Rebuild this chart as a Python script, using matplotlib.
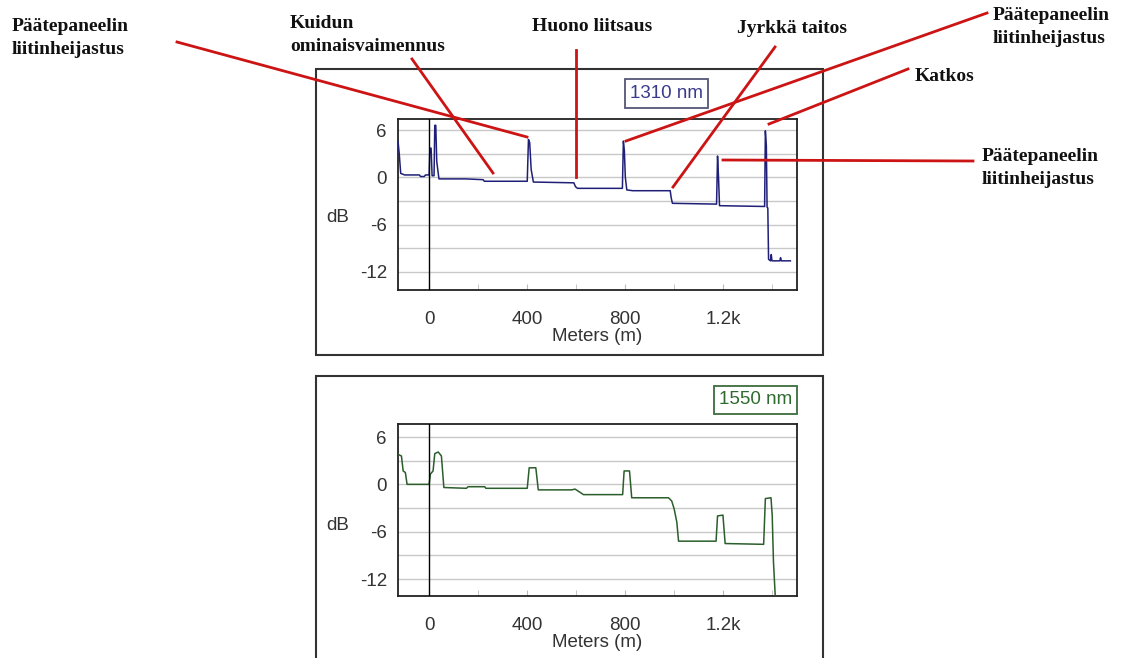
import matplotlib
matplotlib.use("Agg")
import matplotlib.pyplot as plt
from matplotlib.patches import Rectangle
from matplotlib.lines import Line2D

# ---------------- data ----------------
dist_1310 = [-127, -122, -116, -100, -40, -35, -20, -15, 0, 3, 8, 12, 20, 23, 27, 31, 40,
             150, 220, 225, 400, 405, 410, 416, 425, 590, 597, 605, 788, 792, 796, 800,
             806, 830, 983, 987, 992, 1172, 1176, 1180, 1184, 1368, 1371, 1375, 1378,
             1381, 1384, 1392, 1395, 1398, 1430, 1433, 1436, 1473]
db_1310 = [4.6, 3.0, 0.5, 0.3, 0.3, 0.1, 0.1, 0.3, 0.3, 3.7, 3.7, 0.2, 0.2, 6.6, 6.6, 2.0, -0.2,
           -0.2, -0.3, -0.5, -0.5, 4.8, 4.4, 1.0, -0.6, -0.7, -1.2, -1.4, -1.4, 4.6, 3.4, 0.0,
           -1.6, -1.7, -1.7, -2.6, -3.3, -3.4, 2.7, 0.0, -3.6, -3.7, 5.9, 4.0, -3.8,
           -3.9, -10.4, -10.6, -9.8, -10.6, -10.6, -10.2, -10.6, -10.6]

dist_1550 = [-127, -113, -106, -97, -90, 0, 5, 16, 23, 37, 50, 60, 152, 159, 227, 231, 400,
             408, 435, 445, 581, 595, 615, 629, 789, 795, 817, 826, 976, 989, 999, 1010,
             1017, 1170, 1176, 1198, 1207, 1364, 1371, 1394, 1399, 1404, 1411]
db_1550 = [3.8, 3.6, 1.7, 1.5, 0.0, 0.0, 1.3, 1.7, 3.9, 4.1, 3.6, -0.4, -0.5, -0.3, -0.3, -0.5, -0.5,
           2.1, 2.1, -0.7, -0.7, -0.6, -1.0, -1.3, -1.3, 1.7, 1.7, -1.7, -1.7, -2.1, -3.1, -4.8,
           -7.2, -7.2, -4.0, -3.9, -7.5, -7.6, -1.8, -1.7, -4.0, -9.8, -14.0]

x_ticks = [0, 400, 800, 1200]
x_tick_labels = ["0", "400", "800", "1.2k"]
y_ticks = [6, 0, -6, -12]
y_tick_labels = ["6", "0", "-6", "-12"]

W, H = 1124, 658


def fx(x):
    return x / W


def fy(y):
    return 1 - y / H


fig = plt.figure(figsize=(W / 100, H / 100), dpi=100)
fig.patch.set_facecolor("white")

sans = "Liberation Sans"
serif = "Liberation Serif"
tick_col = "#333333"
fs = 13.5

# outer frames
for (x0, y0, x1, y1) in [(316, 69, 823, 355), (316, 376, 823, 700)]:
    fig.patches.append(Rectangle((fx(x0), fy(y1)), fx(x1) - fx(x0), fy(y0) - fy(y1),
                                 transform=fig.transFigure, fill=False,
                                 edgecolor="#333333", linewidth=1.5, zorder=0))


def make_axes(rect_px, ylim, dist, db, color):
    x0, y0, x1, y1 = rect_px
    ax = fig.add_axes([fx(x0), fy(y1), fx(x1) - fx(x0), fy(y0) - fy(y1)])
    ax.plot(dist, db, color=color, lw=1.1, zorder=3)
    ax.axvline(0, color="black", lw=1.0, zorder=4)
    ax.set_xlim(-127, 1500)
    ax.set_ylim(*ylim)
    ax.set_xticks(x_ticks)
    ax.set_xticklabels(x_tick_labels, fontfamily=sans, fontsize=fs, color=tick_col)
    ax.set_xticks([200, 600, 1000, 1400], minor=True)
    ax.tick_params(axis="x", which="both", direction="in", length=4, color="#bbbbbb", pad=15)
    ax.set_yticks(y_ticks)
    ax.set_yticklabels(y_tick_labels, fontfamily=sans, fontsize=fs, color=tick_col)
    ax.set_yticks([3, -3, -9], minor=True)
    ax.tick_params(axis="y", which="both", length=0, pad=8)
    ax.grid(axis="y", which="both", color="#c8c8c8", lw=1.0, zorder=1)
    ax.set_axisbelow(True)
    for s in ax.spines.values():
        s.set_color("#222222")
        s.set_linewidth(1.3)
    ax.set_xlabel("Meters (m)", fontfamily=sans, fontsize=fs, color=tick_col, labelpad=0)
    return ax


ax1 = make_axes((398, 119, 797, 290), (-14.3, 7.4), dist_1310, db_1310, "#1f1f78")
ax2 = make_axes((398, 424, 797, 596), (-14.15, 7.65), dist_1550, db_1550, "#2b5e2b")

fig.text(fx(338), fy(218), "dB", fontfamily=sans, fontsize=fs, color=tick_col, ha="center", va="center")
fig.text(fx(338), fy(525), "dB", fontfamily=sans, fontsize=fs, color=tick_col, ha="center", va="center")

# wavelength boxes
for (x0, y0, x1, y1, txt, ec, tc) in [(625, 79, 708, 108, "1310 nm", "#555577", "#3a3a8c"),
                                      (714, 386, 797, 414, "1550 nm", "#3d6b3d", "#2e6b2e")]:
    fig.patches.append(Rectangle((fx(x0), fy(y1)), fx(x1) - fx(x0), fy(y0) - fy(y1),
                                 transform=fig.transFigure, facecolor="white",
                                 edgecolor=ec, linewidth=1.3, zorder=5))
    fig.text(fx((x0 + x1) / 2), fy((y0 + y1) / 2), txt, fontfamily=sans, fontsize=fs,
             color=tc, ha="center", va="center", zorder=6)

# annotation lines
red = "#cc1414"
for (xa, ya, xb, yb) in [(177, 42, 527, 137), (412, 59, 493, 173), (576, 50, 576, 177),
                         (775, 47, 673, 187), (987, 13, 626, 141), (908, 69, 769, 124),
                         (723, 160, 973, 161)]:
    fig.lines.append(Line2D([fx(xa), fx(xb)], [fy(ya), fy(yb)], transform=fig.transFigure,
                            color=red, lw=2.0, zorder=10))

# annotation texts
for (x, y, txt) in [(12, 18, "Päätepaneelin\nliitinheijastus"),
                    (290, 15, "Kuidun\nominaisvaimennus"),
                    (532, 18, "Huono liitsaus"),
                    (737, 20, "Jyrkkä taitos"),
                    (993, 7, "Päätepaneelin\nliitinheijastus"),
                    (915, 68, "Katkos"),
                    (982, 148, "Päätepaneelin\nliitinheijastus")]:
    fig.text(fx(x), fy(y), txt, fontfamily=serif, fontweight="bold", fontsize=14,
             color="#111111", ha="left", va="top", linespacing=1.45, zorder=11)

fig.savefig("out.png", dpi=100)
